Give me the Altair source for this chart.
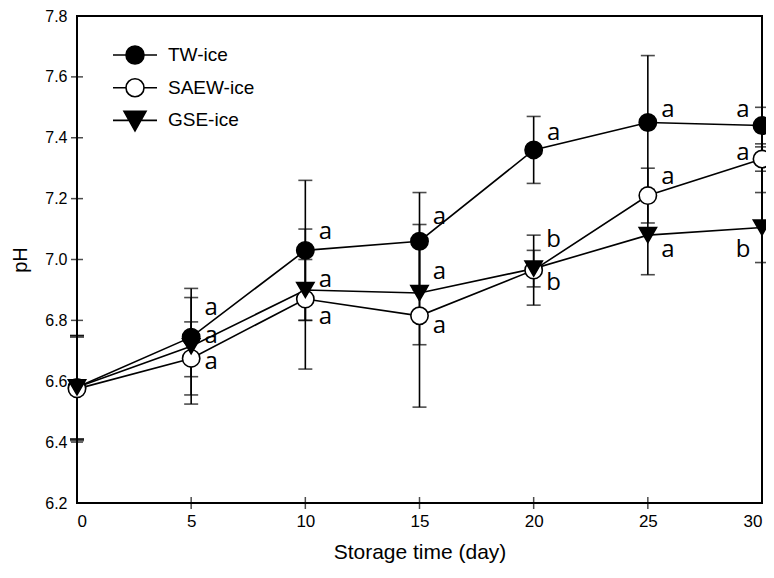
import altair as alt
import pandas as pd

# ---------------- data ----------------
days = [0, 5, 10, 15, 20, 25, 30]
series_names = ["TW-ice", "SAEW-ice", "GSE-ice"]

tw_mean = [6.58, 6.745, 7.03, 7.06, 7.36, 7.45, 7.44]
tw_err = [0.17, 0.13, 0.23, 0.16, 0.11, 0.22, 0.06]
saew_mean = [6.575, 6.675, 6.87, 6.815, 6.965, 7.21, 7.33]
saew_err = [0.17, 0.12, 0.23, 0.30, 0.115, 0.09, 0.04]
gse_mean = [6.58, 6.715, 6.90, 6.89, 6.97, 7.08, 7.105]
gse_err = [0.17, 0.19, 0.10, 0.17, 0.06, 0.13, 0.115]

# significance letters (day, series, letter, label y position)
letter_days = [5, 5, 5, 10, 10, 10, 15, 15, 15, 20, 20, 20, 25, 25, 25, 30, 30, 30]
letter_series = ["TW-ice", "GSE-ice", "SAEW-ice"] * 6
letter_text = ["a", "a", "a", "a", "a", "a", "a", "a", "a",
               "a", "b", "b", "a", "a", "a", "a", "a", "b"]
letter_y = [6.848, 6.756, 6.670, 7.097, 6.940, 6.817, 7.146, 6.967, 6.789,
            7.422, 7.070, 6.930, 7.498, 7.276, 7.038, 7.498, 7.357, 7.038]

x_ticks = [5, 10, 15, 20, 25]
y_ticks = [6.4, 6.6, 6.8, 7.0, 7.2, 7.4, 7.6]

# ---------------- tables ----------------
rows = []
for name, means, errs in [("TW-ice", tw_mean, tw_err),
                          ("SAEW-ice", saew_mean, saew_err),
                          ("GSE-ice", gse_mean, gse_err)]:
    for d, m, e in zip(days, means, errs):
        rows.append({"day": d, "series": name, "ph": m, "lo": m - e, "hi": m + e})
df = pd.DataFrame(rows)

caps = pd.concat([
    df[["day", "series"]].assign(cap=df["lo"]),
    df[["day", "series"]].assign(cap=df["hi"]),
])

letters = pd.DataFrame({"day": letter_days, "series": letter_series,
                        "letter": letter_text, "ly": letter_y})

xticks_df = pd.DataFrame({"t": x_ticks})
yticks_df = pd.DataFrame({"t": y_ticks})
legend_df = pd.DataFrame({"name": series_names})

W, H = 685, 487
AXFONT = "Liberation Sans"

xscale = alt.Scale(domain=[0, 30], nice=False, zero=False)
yscale = alt.Scale(domain=[6.2, 7.8], nice=False, zero=False)

x_enc = alt.X("day:Q", scale=xscale,
              axis=alt.Axis(title="Storage time (day)", values=[0, 5, 10, 15, 20, 25, 30],
                            ticks=False, domain=False, grid=False, labelPadding=10,
                            labelFont=AXFONT, labelFontSize=17, labelColor="black",
                            titleFont=AXFONT, titleFontSize=21, titleFontWeight="normal",
                            titleColor="black", titlePadding=12))
y_enc = alt.Y("ph:Q", scale=yscale,
              axis=alt.Axis(title="pH", values=[6.2, 6.4, 6.6, 6.8, 7.0, 7.2, 7.4, 7.6, 7.8],
                            format=".1f", ticks=False, domain=False, grid=False,
                            labelPadding=10, labelFont=AXFONT, labelFontSize=16,
                            labelColor="black", titleFont=AXFONT, titleFontSize=20,
                            titleFontWeight="normal", titleColor="black", titlePadding=14))

base = alt.Chart(df)

lines = base.mark_line(color="black", strokeWidth=1.6).encode(
    x=x_enc, y=y_enc, detail="series:N")

err_rules = base.mark_rule(color="black", strokeWidth=1.6).encode(
    x=alt.X("day:Q", scale=xscale), y=alt.Y("lo:Q", scale=yscale), y2="hi:Q")

err_caps = alt.Chart(caps).mark_tick(orient="horizontal", color="black", size=14,
                                     thickness=1.6).encode(
    x=alt.X("day:Q", scale=xscale), y=alt.Y("cap:Q", scale=yscale))

points = base.mark_point(opacity=1, stroke="black", strokeWidth=1.6, filled=False).encode(
    x=alt.X("day:Q", scale=xscale),
    y=alt.Y("ph:Q", scale=yscale),
    shape=alt.Shape("series:N", legend=None,
                    scale=alt.Scale(domain=series_names,
                                    range=["circle", "circle", "triangle-down"])),
    fill=alt.Fill("series:N", legend=None,
                  scale=alt.Scale(domain=series_names, range=["black", "white", "black"])),
    size=alt.Size("series:N", legend=None,
                  scale=alt.Scale(domain=series_names, range=[300, 300, 400])),
)

# legend (custom symbols: line through marker)
circ = "M-2.2,0L-0.9,0M0.9,0L2.2,0M-0.9,0A0.9,0.9 0 1,0 0.9,0A0.9,0.9 0 1,0 -0.9,0Z"
tri = "M-2.2,0L-0.6,0M0.6,0L2.2,0M-1.1,-0.9L1.1,-0.9L0,1.05Z"
leg = alt.Legend(title=None, orient="none", legendX=47, legendY=28, symbolSize=400,
                 symbolStrokeWidth=1.6, labelFont=AXFONT,
                 labelFontSize=19, labelColor="black", labelOffset=22, rowPadding=6.7,
                 padding=0, symbolOpacity=1)
legend_layer = alt.Chart(legend_df).mark_point(
    filled=False, opacity=1, strokeWidth=1.6).encode(
    x=alt.X("day:Q", scale=xscale), y=alt.Y("ph:Q", scale=yscale),
    shape=alt.Shape("name:N", legend=leg,
                    scale=alt.Scale(domain=series_names, range=[circ, circ, tri])),
    fill=alt.Fill("name:N", legend=leg,
                  scale=alt.Scale(domain=series_names, range=["black", "white", "black"])),
    stroke=alt.Stroke("name:N", legend=leg,
                      scale=alt.Scale(domain=series_names, range=["black", "black", "black"])),
).transform_filter("false")

# significance letters
txt_right = alt.Chart(letters).transform_filter("datum.day < 30").mark_text(
    font="Open Sans", fontSize=24, color="black", align="center", baseline="middle",
    dx=20, dy=2).encode(
    x=alt.X("day:Q", scale=xscale), y=alt.Y("ly:Q", scale=yscale), text="letter:N")
txt_left = alt.Chart(letters).transform_filter("datum.day >= 30").mark_text(
    font="Open Sans", fontSize=24, color="black", align="center", baseline="middle",
    dx=-19, dy=2).encode(
    x=alt.X("day:Q", scale=xscale), y=alt.Y("ly:Q", scale=yscale), text="letter:N")

# inward axis ticks
xt = alt.Chart(xticks_df).mark_tick(orient="vertical", color="black", size=12,
                                    thickness=1.5).encode(
    x=alt.X("t:Q", scale=xscale), y=alt.value(H))
yt = alt.Chart(yticks_df).mark_tick(orient="horizontal", color="black", size=12,
                                    thickness=1.5).encode(
    y=alt.Y("t:Q", scale=yscale), x=alt.value(0))

chart = alt.layer(
    lines, err_rules, err_caps, points, legend_layer, txt_right, txt_left, xt, yt
).resolve_scale(
    shape="independent", fill="independent", stroke="independent"
).properties(
    width=W, height=H,
    padding={"left": 69, "top": 8, "right": 4, "bottom": 67},
    autosize=alt.AutoSizeParams(type="none"),
    background="white",
).configure_view(
    stroke="black", strokeWidth=2
)

chart.save("out.html", embed_options={"renderer": "svg", "actions": False})
